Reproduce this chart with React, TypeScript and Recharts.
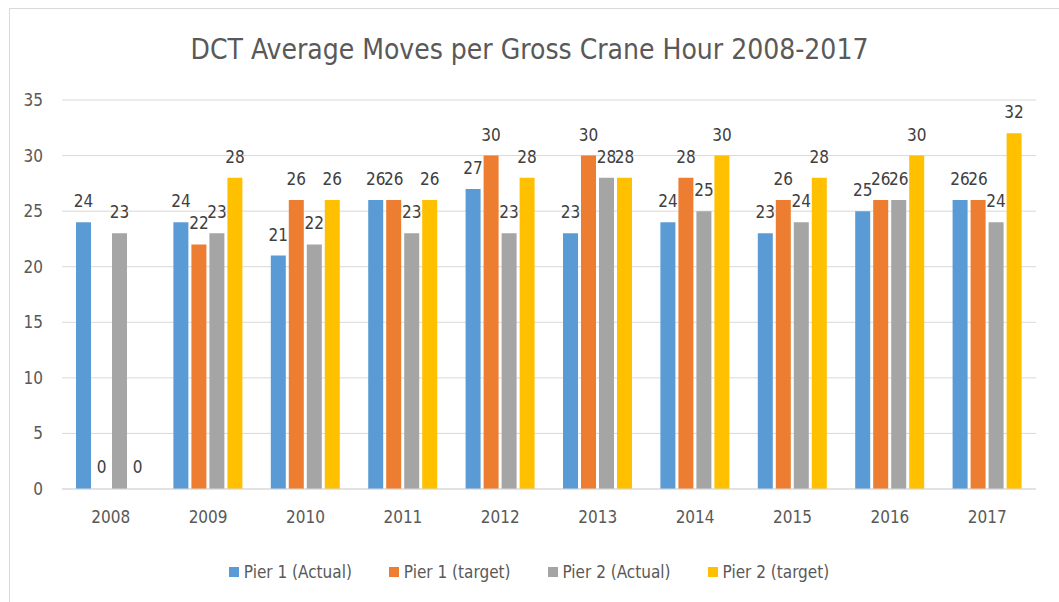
import React from 'react';
import { BarChart, Bar, XAxis, YAxis, CartesianGrid, Legend, LabelList, Rectangle } from 'recharts';

const years = ['2008', '2009', '2010', '2011', '2012', '2013', '2014', '2015', '2016', '2017'];
const pier1Actual = [24, 24, 21, 26, 27, 23, 24, 23, 25, 26];
const pier1Target = [0, 22, 26, 26, 30, 30, 28, 26, 26, 26];
const pier2Actual = [23, 23, 22, 23, 23, 28, 25, 24, 26, 24];
const pier2Target = [0, 28, 26, 26, 28, 28, 30, 28, 30, 32];
const yTicks = [0, 5, 10, 15, 20, 25, 30, 35];

const data = years.map((y, i) => ({
  year: y,
  p1a: pier1Actual[i],
  p1t: pier1Target[i],
  p2a: pier2Actual[i],
  p2t: pier2Target[i],
}));

const font = "'Liberation Sans Narrow', 'DejaVu Sans Condensed', 'Liberation Sans', sans-serif";
const labelStyle = { fill: '#404040', fontSize: 17, fontFamily: font };

// zero values get a 1px placeholder so the "0" label still shows, but nothing is painted
const barShape = (props: any) => (props.height <= 1.5 ? <g /> : <Rectangle {...props} />);

const renderLegend = (props: any) => (
  <div style={{ display: 'flex', justifyContent: 'center', gap: 37, fontSize: 17, color: '#595959', fontFamily: font }}>
    {props.payload.map((p: any) => (
      <div key={p.value} style={{ display: 'flex', alignItems: 'center' }}>
        <span style={{ display: 'inline-block', width: 10, height: 10, background: p.color, marginRight: 5 }} />
        {p.value}
      </div>
    ))}
  </div>
);

export default function App() {
  return (
    <div style={{ position: 'absolute', left: 0, top: 0, width: 1059, height: 602, background: '#fff', fontFamily: font }}>
      <div style={{ position: 'absolute', left: 9, top: 8, width: 1060, height: 600, border: '1px solid #d9d9d9' }} />
      <div style={{ position: 'absolute', left: 0, top: 33, width: 1059, textAlign: 'center', fontSize: 28, color: '#595959' }}>
        DCT Average Moves per Gross Crane Hour 2008-2017
      </div>
      <div style={{ position: 'absolute', left: 0, top: 0 }}>
        <BarChart
          width={1059}
          height={602}
          data={data}
          margin={{ top: 100, right: 23, left: 22, bottom: 20 }}
          barSize={15}
          barGap={3}
          barCategoryGap="15%"
        >
          <CartesianGrid vertical={false} stroke="#d9d9d9" />
          <XAxis
            dataKey="year"
            tickLine={false}
            axisLine={{ stroke: '#d9d9d9' }}
            tick={{ fill: '#595959', fontSize: 17, fontFamily: font }}
            tickMargin={16}
            height={73}
          />
          <YAxis
            domain={[0, 35]}
            ticks={yTicks}
            width={40}
            tickLine={false}
            axisLine={false}
            tick={{ fill: '#595959', fontSize: 17, fontFamily: font }}
            tickMargin={13}
          />
          <Legend verticalAlign="bottom" content={renderLegend} />
          <Bar dataKey="p1a" name="Pier 1 (Actual)" fill="#5B9BD5" minPointSize={1} shape={barShape} isAnimationActive={false}>
            <LabelList dataKey="p1a" position="top" offset={15} style={labelStyle} />
          </Bar>
          <Bar dataKey="p1t" name="Pier 1 (target)" fill="#ED7D31" minPointSize={1} shape={barShape} isAnimationActive={false}>
            <LabelList dataKey="p1t" position="top" offset={15} style={labelStyle} />
          </Bar>
          <Bar dataKey="p2a" name="Pier 2 (Actual)" fill="#A5A5A5" minPointSize={1} shape={barShape} isAnimationActive={false}>
            <LabelList dataKey="p2a" position="top" offset={15} style={labelStyle} />
          </Bar>
          <Bar dataKey="p2t" name="Pier 2 (target)" fill="#FFC000" minPointSize={1} shape={barShape} isAnimationActive={false}>
            <LabelList dataKey="p2t" position="top" offset={15} style={labelStyle} />
          </Bar>
        </BarChart>
      </div>
    </div>
  );
}
